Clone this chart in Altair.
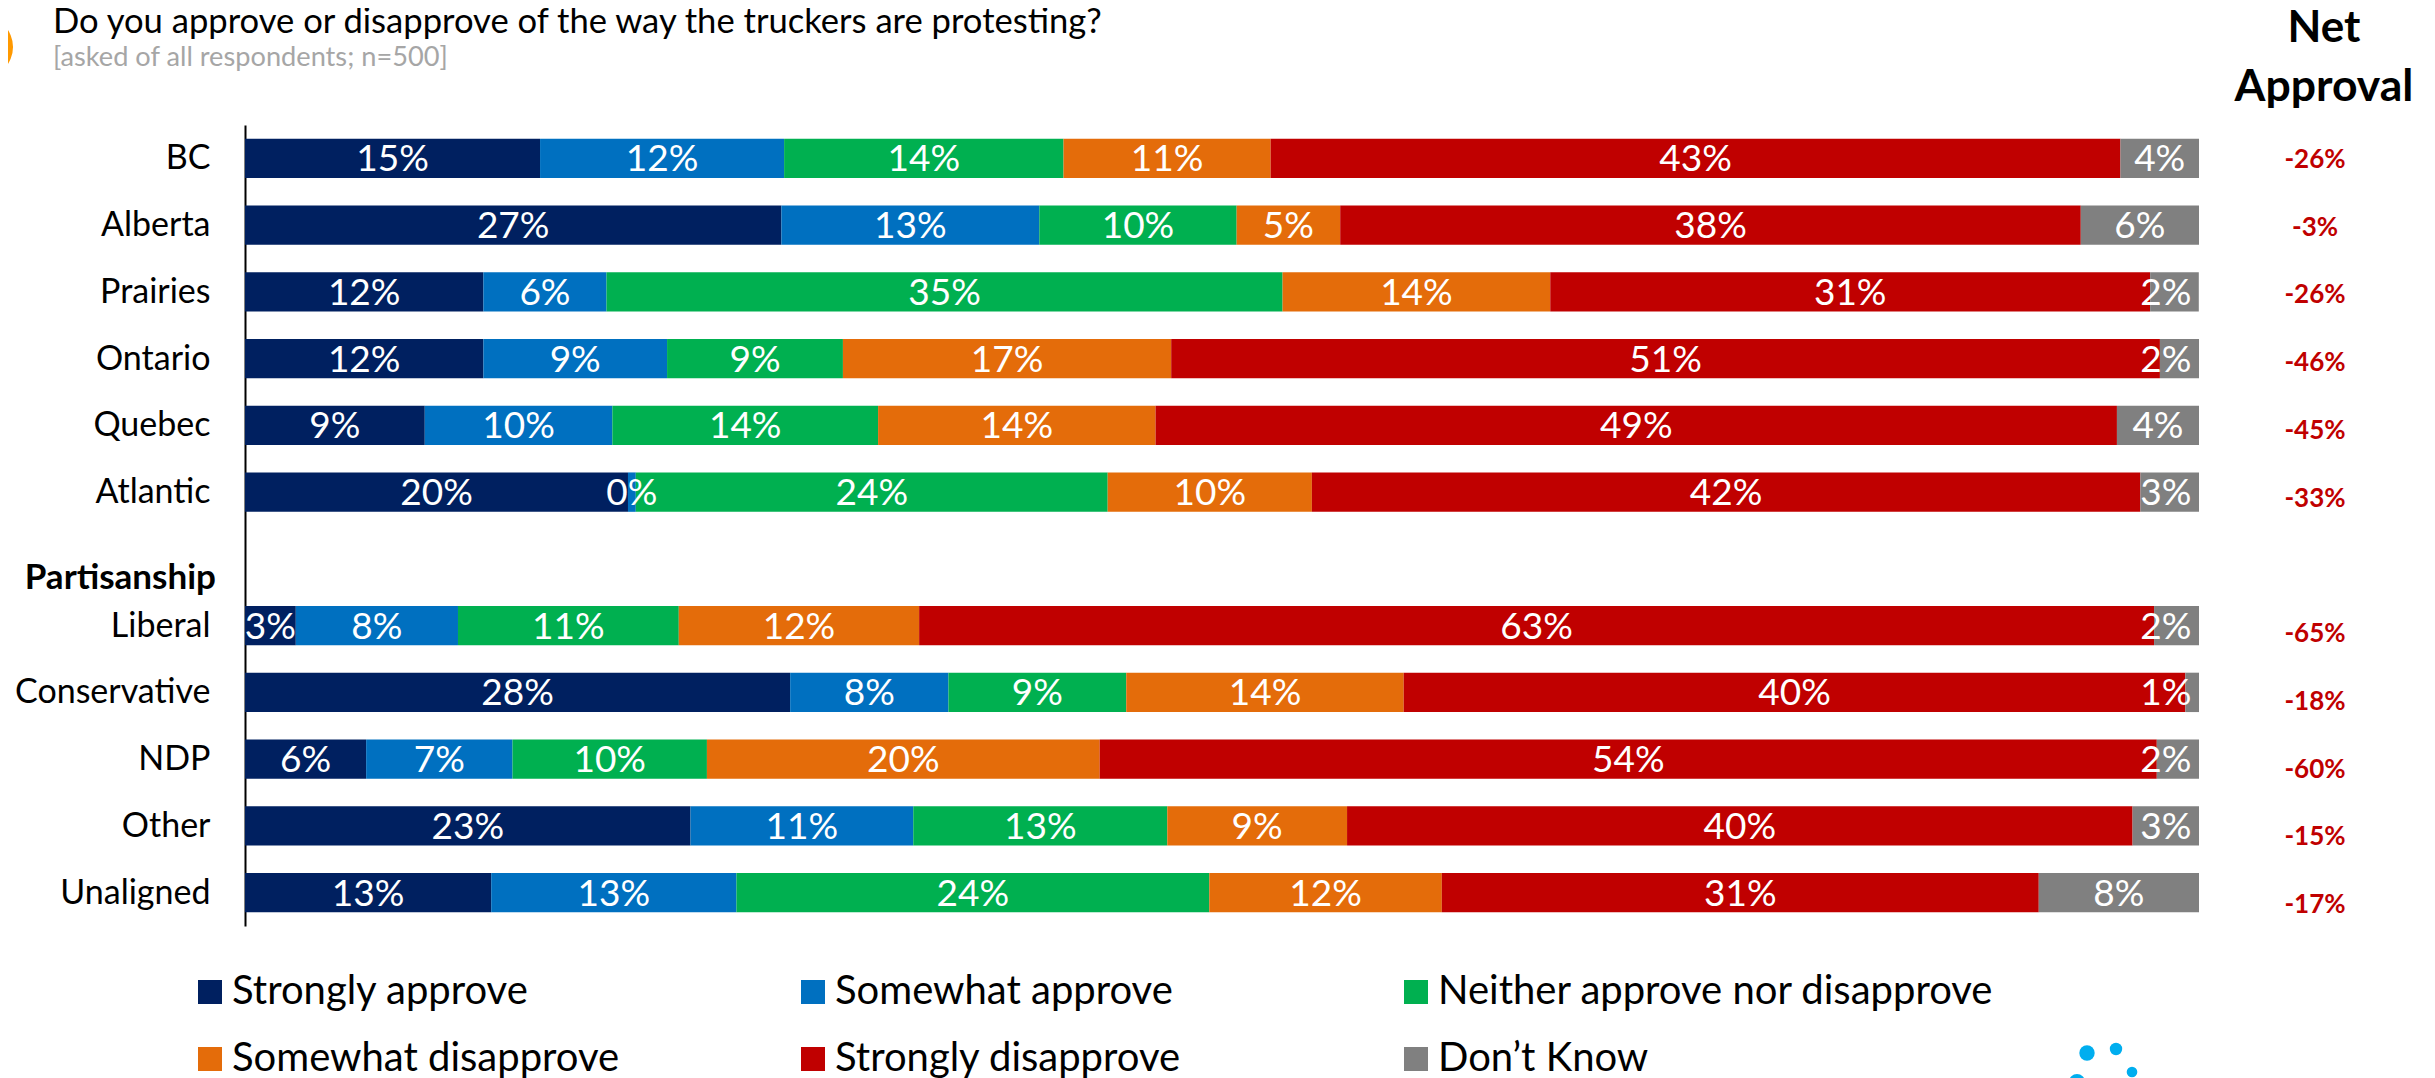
import altair as alt
import pandas as pd

rows = ["BC", "Alberta", "Prairies", "Ontario", "Quebec", "Atlantic", "Partisanship",
        "Liberal", "Conservative", "NDP", "Other", "Unaligned"]
answers = ["Strongly approve", "Somewhat approve", "Neither approve nor disapprove",
           "Somewhat disapprove", "Strongly disapprove", "Don\u2019t Know"]
colors = ["#002060", "#0070C0", "#00B050", "#E46C0A", "#C00000", "#808080"]

bc = [15.1, 12.49, 14.3, 10.6, 43.49, 4.02]
alberta = [27.45, 13.2, 10.1, 5.3, 37.9, 6.05]
prairies = [12.2, 6.3, 34.6, 13.7, 30.7, 2.49]
ontario = [12.2, 9.4, 9.0, 16.8, 50.6, 2.0]
quebec = [9.2, 9.6, 13.6, 14.2, 49.2, 4.2]
atlantic = [19.6, 0.4, 24.15, 10.45, 42.4, 3.0]
liberal = [2.6, 8.3, 11.3, 12.3, 63.2, 2.3]
conservative = [27.9, 8.1, 9.1, 14.2, 40.0, 0.7]
ndp = [6.2, 7.49, 9.95, 20.1, 54.1, 2.16]
other = [22.8, 11.4, 13.0, 9.2, 40.2, 3.4]
unaligned = [12.6, 12.55, 24.2, 11.9, 30.55, 8.2]

net_rows = ["BC", "Alberta", "Prairies", "Ontario", "Quebec", "Atlantic",
            "Liberal", "Conservative", "NDP", "Other", "Unaligned"]
net_labels = ["-26%", "-3%", "-26%", "-46%", "-45%", "-33%", "-65%", "-18%", "-60%", "-15%", "-17%"]

series = {"BC": bc, "Alberta": alberta, "Prairies": prairies, "Ontario": ontario, "Quebec": quebec,
          "Atlantic": atlantic, "Liberal": liberal, "Conservative": conservative, "NDP": ndp,
          "Other": other, "Unaligned": unaligned}
df = pd.DataFrame([{"row": r, "answer": a, "order": i, "value": v[i]}
                   for r, v in series.items() for i, a in enumerate(answers)])

FONT = "Lato"
W, H = 1954, 801
PAD = {"left": 237, "top": 117, "right": 2419 - 237 - W, "bottom": 1070 - 117 - H}

y_scale = alt.Scale(domain=rows, paddingInner=0.41, paddingOuter=0.205)
x_scale = alt.Scale(domain=[0, 100])

base = alt.Chart(df).transform_stack(
    stack="value", as_=["x0", "x1"], groupby=["row"], sort=[alt.SortField("order")]
).transform_calculate(mid="min((datum.x0 + datum.x1) / 2, 98.3)",
                      label="format(datum.value / 100, '.0%')")

bars = base.mark_bar(clip=False).encode(
    y=alt.Y("row:N", scale=y_scale, title=None,
            axis=alt.Axis(labelExpr="datum.value == 'Partisanship' ? '' : datum.value",
                          labelFont=FONT, labelFontSize=34, labelColor="#000000", labelOffset=1,
                          labelPadding=35, ticks=False, domainColor="#000000", domainWidth=2,
                          grid=False, labelLimit=400)),
    x=alt.X("x0:Q", scale=x_scale, axis=None),
    x2="x1:Q",
    color=alt.Color("answer:N", scale=alt.Scale(domain=answers, range=colors), title=None,
                    legend=alt.Legend(orient="none", legendX=-55, legendY=846, columns=3,
                                      direction="horizontal",
                                      gridAlign="all", columnPadding=4, rowPadding=25,
                                      symbolType="square", symbolSize=576, symbolStrokeWidth=0,
                                      symbolOpacity=1, labelFont=FONT, labelFontSize=40,
                                      labelColor="#000000", labelLimit=700, labelOffset=2,
                                      padding=0, clipHeight=42)),
)

labels = base.mark_text(font=FONT, fontSize=37, color="#FFFFFF", baseline="middle", align="center", dy=2).encode(
    y=alt.Y("row:N", scale=y_scale, axis=None),
    x=alt.X("mid:Q", scale=x_scale, axis=None),
    text="label:N",
)

part = alt.Chart(pd.DataFrame({"row": ["Partisanship"]})).mark_text(
    font=FONT, fontSize=35, fontWeight="bold", align="right", baseline="middle", dy=19, color="#000000"
).encode(y=alt.Y("row:N", scale=y_scale, axis=None), x=alt.value(-29), text="row:N")

net = alt.Chart(pd.DataFrame({"row": net_rows, "net": net_labels})).mark_text(
    font=FONT, fontSize=26, fontWeight="bold", color="#C00000", align="center", baseline="middle", dy=1
).encode(y=alt.Y("row:N", scale=alt.Scale(domain=rows, range=[0, 813], paddingInner=0.41, paddingOuter=0.205), axis=None),
         x=alt.value(2070), text="net:N")

def note(txt, x, y, size, color="#000000", weight="normal", align="left"):
    return alt.Chart(pd.DataFrame({"t": [txt]})).mark_text(
        font=FONT, fontSize=size, color=color, fontWeight=weight, align=align, baseline="alphabetic"
    ).encode(x=alt.value(x), y=alt.value(y), text="t:N")

def dot(x, y, r, color):
    return alt.Chart(pd.DataFrame({"k": [0]})).mark_circle(
        color=color, opacity=1, size=3.14159 * r * r
    ).encode(x=alt.value(x - 245), y=alt.value(y - 125))

title = note("Do you approve or disapprove of the way the truckers are protesting?", 53 - 245, 33 - 125, 34.6)
sub = note("[asked of all respondents; n=500]", 53 - 245, 66 - 125, 27.2, color="#A6A6A6")
net1 = note("Net", 2079, 42 - 125, 44, weight="bold", align="center")
net2 = note("Approval", 2079, 101 - 125, 44.5, weight="bold", align="center")
decor = [dot(-18, 47, 35, "#FF9900"), dot(2087, 1053, 8.7, "#00AEEF"), dot(2116, 1049, 7, "#00AEEF"),
         dot(2132, 1072, 6, "#00AEEF"), dot(2077, 1082, 9, "#00AEEF")]

chart = alt.layer(bars, labels, part, net, title, sub, net1, net2, *decor).resolve_scale(y="independent").properties(
    width=W, height=H, padding=PAD, autosize=alt.AutoSizeParams(type="none", contains="content")
).configure_view(stroke=None)

chart.save("out.html", embed_options={"renderer": "svg", "actions": False})
